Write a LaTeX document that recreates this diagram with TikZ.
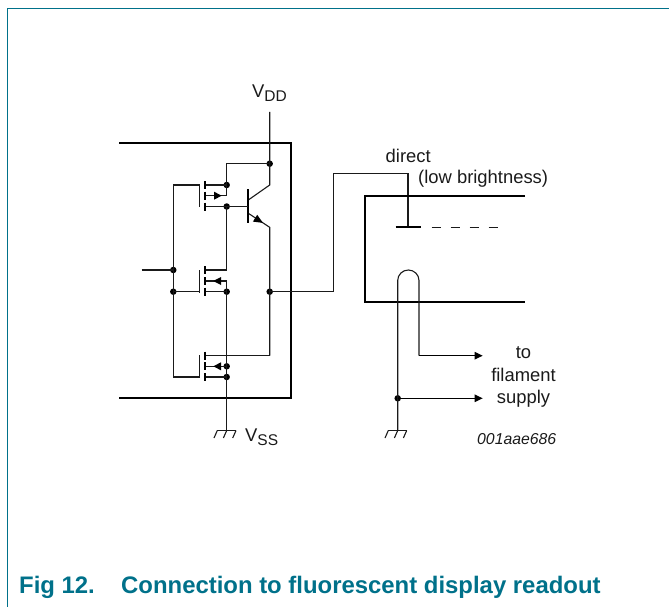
\documentclass[tikz,border=0pt]{standalone}
\usepackage{fontspec}
\setmainfont{Liberation Sans}
\usetikzlibrary{arrows.meta}
\definecolor{frameteal}{HTML}{00718A}
\definecolor{ink}{HTML}{1A1A1A}
\newcommand{\Vsub}[1]{V\raisebox{-0.2em}{\fontsize{15.5}{18}\selectfont #1}}
\tikzset{
  wire/.style={draw=ink,line width=1.1pt},
  thick wall/.style={draw=black,line width=2.3pt},
  chan/.style={draw=black,line width=2.3pt},
  jdot/.style={circle,fill=black,inner sep=0pt,minimum size=6.5pt},
  tip/.style={draw=black,line width=1.1pt,-{Triangle[length=8pt,width=7.4pt,fill=black]}},
  lab/.style={inner sep=0pt,font=\fontsize{18.4}{22}\selectfont,text=ink},
  frameline/.style={draw=frameteal,line width=1pt},
}
\begin{document}
\begin{tikzpicture}[x=1pt,y=-1pt]
\useasboundingbox (0,0) rectangle (669,607);
% frame
\coordinate (fA) at (669,8.5); \coordinate (fB) at (7,8.5); \coordinate (fC) at (7,607);
\draw[frameline] (fA) -- (fB) -- (fC);
% junctions
\node[jdot] (jVdd) at (269.7,163.7) {};
\node[jdot] (jD1) at (226.7,185) {};
\node[jdot] (jB) at (226.7,206.5) {};
\node[jdot] (jIn) at (173.3,270) {};
\node[jdot] (jG2) at (173.3,291.7) {};
\node[jdot] (jS2) at (226.7,291.7) {};
\node[jdot] (jOut) at (269.7,291.7) {};
\node[jdot] (jB3) at (226.7,366.3) {};
\node[jdot] (jS3) at (226.7,377) {};
\node[jdot] (jFil) at (397.7,398.3) {};
% IC box
\coordinate (bTL) at (119,142.7); \coordinate (bTR) at (291.3,142.7);
\coordinate (bBR) at (291.3,398.3); \coordinate (bBL) at (119,398.3);
\draw[thick wall,line join=miter] (bTL) -- (bTR) -- (bBR) -- (bBL);
% VDD rail and transistor
\coordinate (vddTop) at (269.7,112);
\coordinate (cK) at (269.7,185); \coordinate (cB) at (248.3,200);
\coordinate (eB) at (248.3,213.3); \coordinate (eK) at (269.7,227.3);
\coordinate (eTip) at (263,222.9);
\coordinate (bbT) at (248.3,189.3); \coordinate (bbB) at (248.3,223.3);
\coordinate (m3D) at (269.7,355.7);
\draw[wire] (vddTop) -- (jVdd.center) -- (cK) -- (cB);
\draw[wire] (eB) -- (eK) -- (jOut.center) -- (m3D);
\fill[black] (eTip) -- (252.9,221.6) -- (257.2,214.8) -- cycle;
\draw[chan] (bbT) -- (bbB);
\draw[wire] (jVdd.center) -| (226.7,195.7) coordinate (m1B);
% M1
\coordinate (g1T) at (199.3,185); \coordinate (g1B) at (199.3,206.7);
\coordinate (c1D) at (205.3,185); \coordinate (c1B) at (205.3,195.7); \coordinate (c1S) at (205.3,206.5);
\coordinate (gL1) at (173.3,185);
\draw[wire] (jG2.center) -- (jIn.center) -- (gL1) -- (g1T) -- (g1B);
\draw[wire] (c1D) -- (jD1.center);
\draw[wire] (c1S) -- (jB.center) -- (248.3,206.5);
\draw[wire] (c1B) -- (m1B);
\fill[black] (221.7,195.7) -- (214,191.7) -- (214,199.7) -- cycle;
\foreach \c in {c1D,c1B,c1S}{\draw[chan] ([yshift=4pt]\c) -- ([yshift=-4pt]\c);}
% M2
\coordinate (g2T) at (199.3,270); \coordinate (g2B) at (199.3,293.3);
\coordinate (c2D) at (205.3,270); \coordinate (c2B) at (205.3,281); \coordinate (c2S) at (205.3,291.7);
\coordinate (d2R) at (226.7,270); \coordinate (b2R) at (226.7,281);
\coordinate (inL) at (141.7,270);
\draw[wire] (inL) -- (jIn.center);
\draw[wire] (jG2.center) -- (199.3,291.7);
\draw[wire] (g2T) -- (g2B);
\draw[wire] (c2D) -- (d2R) -- (jB.center);
\draw[wire] (c2B) -- (b2R) -- (jS2.center);
\draw[wire] (c2S) -- (jS2.center);
\fill[black] (213.3,281) -- (221,277) -- (221,285) -- cycle;
\foreach \c in {c2D,c2B,c2S}{\draw[chan] ([yshift=4pt]\c) -- ([yshift=-4pt]\c);}
% M3
\coordinate (g3T) at (199.3,355); \coordinate (g3B) at (199.3,377);
\coordinate (c3D) at (205.3,355.7); \coordinate (c3B) at (205.3,366.3); \coordinate (c3S) at (205.3,377);
\coordinate (gL3) at (173.3,377);
\draw[wire] (jG2.center) -- (gL3) -- (g3B) -- (g3T);
\draw[wire] (c3D) -- (m3D);
\draw[wire] (c3B) -- (jB3.center);
\draw[wire] (c3S) -- (jS3.center);
\fill[black] (213.3,366.3) -- (221,362.3) -- (221,370.3) -- cycle;
\foreach \c in {c3D,c3B,c3S}{\draw[chan] ([yshift=4pt]\c) -- ([yshift=-4pt]\c);}
% VSS
\coordinate (gndA) at (226.7,430.5);
\draw[wire] (jS2.center) -- (gndA);
\draw[wire] (217.3,430.5) -- (236,430.5);
\foreach \x in {217.3,226.7,236}{\draw[wire] (\x,430.5) -- (\x-3.3,438);}
% output wire
\coordinate (o1) at (333.3,291.7); \coordinate (o2) at (333.3,173.3);
\coordinate (o3) at (408,173.3); \coordinate (o4) at (408,227.3);
\draw[wire] (jOut.center) -- (o1) -- (o2) -- (o3) -- (o4);
% tube
\coordinate (tTR) at (525,195.7); \coordinate (tTL) at (365.3,195.7);
\coordinate (tBL) at (365.3,302.3); \coordinate (tBR) at (525,302.3);
\draw[thick wall,line join=miter] (tTR) -- (tTL) -- (tBL) -- (tBR);
% grid
\coordinate (grL) at (395.7,227.3); \coordinate (grR) at (421,227.3);
\draw[chan] (grL) -- (grR);
\coordinate (daL) at (431.7,227.3); \coordinate (daR) at (499,227.3);
\draw[draw=ink,line width=0.8pt,dash pattern=on 9.5pt off 9.5pt] (daL) -- (daR);
% filament
\coordinate (fGnd) at (397.7,430.5); \coordinate (fTopL) at (397.7,280.5);
\coordinate (fTopR) at (419,280.5); \coordinate (fCorn) at (419,355.7);
\coordinate (a1) at (482.7,355.7); \coordinate (a2) at (482.7,398.3);
\draw[wire] (fGnd) -- (fTopL) .. controls (397.7,274.7) and (402.5,270) .. (408.35,270) .. controls (414.2,270) and (419,274.7) .. (fTopR) -- (fCorn);
\draw[tip] (fCorn) -- (a1);
\draw[tip] (jFil.center) -- (a2);
\draw[wire] (388.3,430.5) -- (406.7,430.5);
\foreach \x in {388.3,397.7,406.7}{\draw[wire] (\x,430.5) -- (\x-3.3,438);}
% labels
\node[lab,anchor=base west] (tVdd) at (252,97.7) {\Vsub{DD}};
\node[lab,anchor=base west] (tVss) at (245,441.7) {\Vsub{SS}};
\node[lab,anchor=base west] (tDir) at (385.5,162.4) {direct};
\node[lab,anchor=base west] (tLow) at (418,183.4) {(low brightness)};
\node[lab,anchor=base] (tTo) at (523.5,358.7) {to};
\node[lab,anchor=base] (tFil) at (523.5,381.7) {filament};
\node[lab,anchor=base] (tSup) at (523.5,403.7) {supply};
\node[inner sep=0pt,anchor=base west,font=\fontsize{15.8}{18}\selectfont\itshape,text=ink] (tId) at (477,444.7) {001aae686};
\node[inner sep=0pt,anchor=base west,font=\fontsize{23.9}{28}\selectfont\bfseries,text=frameteal] (tCap1) at (19,593.4) {Fig 12.};
\node[inner sep=0pt,anchor=base west,font=\fontsize{23.9}{28}\selectfont\bfseries,text=frameteal] (tCap2) at (121,593.4) {Connection to fluorescent display readout};
\end{tikzpicture}
\end{document}
